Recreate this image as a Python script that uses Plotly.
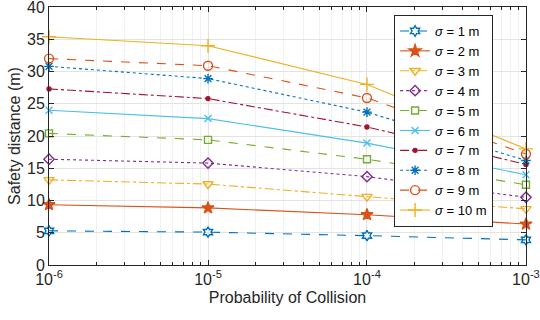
import plotly.graph_objects as go

x_vals = [1e-6, 1e-5, 1e-4, 1e-3]
sigmas = [1, 2, 3, 4, 5, 6, 7, 8, 9, 10]
d1 = [5.3, 5.1, 4.55, 3.9]
d2 = [9.35, 8.85, 7.8, 6.35]
d3 = [13.2, 12.55, 10.6, 8.7]
d4 = [16.4, 15.8, 13.7, 10.5]
d5 = [20.4, 19.4, 16.4, 12.45]
d6 = [24.0, 22.7, 18.9, 14.0]
d7 = [27.3, 25.8, 21.4, 15.6]
d8 = [30.8, 28.9, 23.7, 16.2]
d9 = [32.0, 30.9, 25.9, 17.2]
d10 = [35.4, 34.0, 28.0, 18.0]
series = [d1, d2, d3, d4, d5, d6, d7, d8, d9, d10]
xtick_vals = [1e-6, 1e-5, 1e-4, 1e-3]
xtick_text = ["10<sup>-6</sup>", "10<sup>-5</sup>", "10<sup>-4</sup>", "10<sup>-3</sup>"]
minor_vals = [m * 10.0 ** e for e in (-6, -5, -4) for m in range(2, 10)]
ytick_vals = [0, 5, 10, 15, 20, 25, 30, 35, 40]

colors = ['#0072BD', '#D95319', '#EDB120', '#7E2F8E', '#77AC30',
          '#4DBEEE', '#A2142F', '#0072BD', '#D95319', '#EDB120']
dashes = ['dash', 'solid', 'dashdot', 'dot', 'dash', 'solid', 'dashdot', 'dot', 'dash', 'solid']
symbols = ['hexagram-open', 'star', 'triangle-down-open', 'diamond-open', 'square-open',
           'x-thin-open', 'circle', 'asterisk-open', 'circle-open', 'cross-thin-open']
sizes = [8, 9, 9, 8, 7, 7, 4, 8, 9, 10]

fig = go.Figure()
for s, d, c, ds, sym, sz in zip(sigmas, series, colors, dashes, symbols, sizes):
    fig.add_trace(go.Scatter(
        x=x_vals, y=d, mode='lines+markers',
        name=f"<i>σ</i> = {s} m",
        line=dict(color=c, width=1.1, dash=ds),
        marker=dict(symbol=sym, size=sz, color=c, line=dict(color=c, width=1.4)),
        cliponaxis=False,
    ))

fig.update_layout(
    width=540, height=320,
    margin=dict(l=49, r=14, t=7, b=55),
    paper_bgcolor='white', plot_bgcolor='white',
    font=dict(family='Liberation Sans, Arial, sans-serif', size=16, color='#262626'),
    showlegend=True,
    legend=dict(x=0.931, y=0.969, xanchor='right', yanchor='top',
                bgcolor='white', bordercolor='#262626', borderwidth=1,
                font=dict(size=13, color='#000000'), tracegroupgap=0,
                itemwidth=30),
)
fig.update_xaxes(
    type='log', range=[-6.0002, -2.9998], automargin=False,
    tickvals=xtick_vals, ticktext=xtick_text,
    showgrid=True, gridcolor='#E3E3E3', gridwidth=1,
    minor=dict(tickvals=minor_vals, showgrid=True, gridcolor='#F0F0F0',
               ticks='inside', ticklen=3, tickcolor='#262626'),
    ticks='inside', ticklen=5, tickcolor='#262626',
    showline=True, linecolor='#262626', linewidth=1, mirror='ticks',
    zeroline=False, ticklabeloverflow='allow',
    title=dict(text='Probability of Collision', font=dict(size=16), standoff=4),
    tickfont=dict(size=16),
)
fig.update_yaxes(
    range=[0, 40.001], tickvals=ytick_vals, automargin=False,
    showgrid=True, gridcolor='#E3E3E3', gridwidth=1,
    ticks='inside', ticklen=5, tickcolor='#262626',
    showline=True, linecolor='#262626', linewidth=1, mirror='ticks',
    zeroline=False, ticklabeloverflow='allow',
    title=dict(text='Safety distance (m)', font=dict(size=16), standoff=2),
    tickfont=dict(size=16),
)

fig.write_html("out.html", config={'displayModeBar': False})

with open("out.html", "r", encoding="utf-8") as f:
    html = f.read()
html = html.replace("<head>", "<head><style>html,body{margin:0;padding:0;overflow:hidden;}</style>", 1)
with open("out.html", "w", encoding="utf-8") as f:
    f.write(html)
